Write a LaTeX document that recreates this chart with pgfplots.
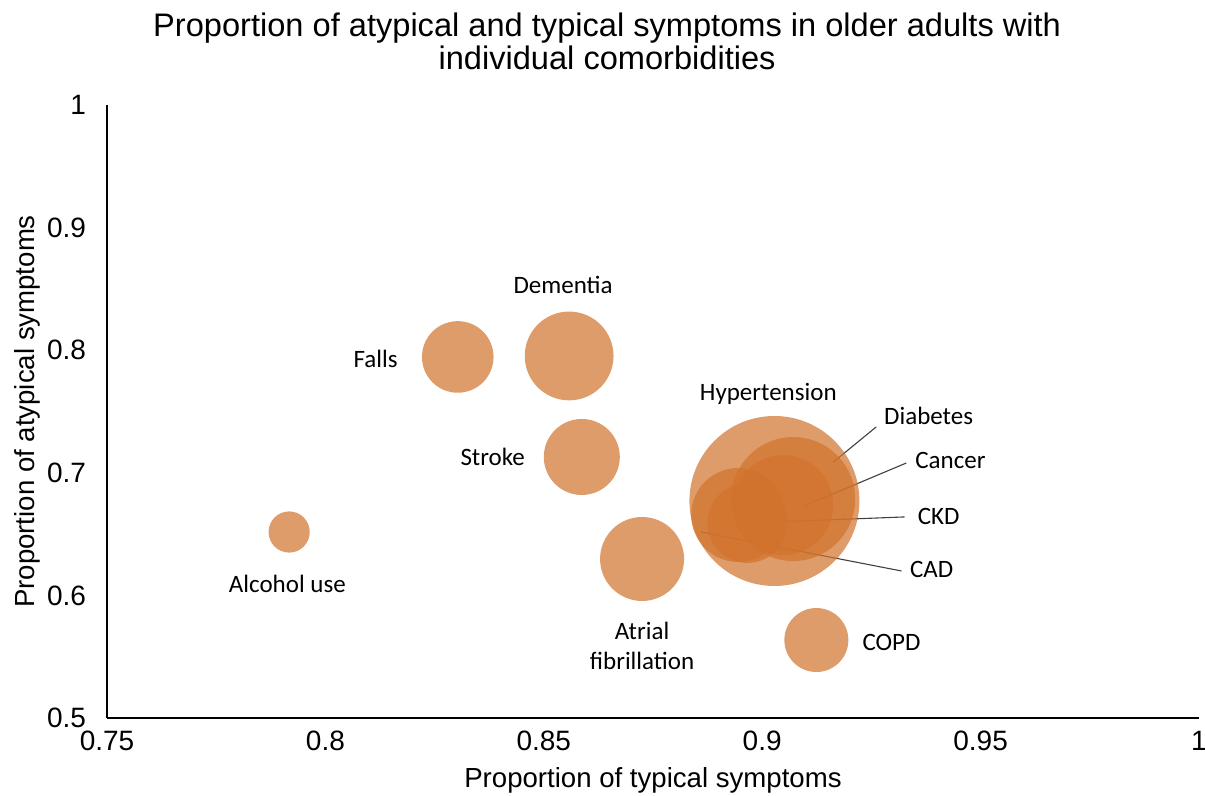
\documentclass[border=0pt]{standalone}
\usepackage{pgfplots}
\pgfplotsset{compat=1.18}
\usepackage{pgfplotstable}
\usepackage{fontspec}
\setmainfont{Liberation Sans}
\newfontfamily\lab{Carlito}
\definecolor{bub}{RGB}{209,114,44}
\pgfplotstableread{
x y r
0.9028 0.6770 42.5
0.9071 0.6786 31
0.9048 0.6737 25
0.8945 0.6656 23.5
0.8966 0.6591 20
0.7917 0.6517 10.3
0.8303 0.7945 17.9
0.8558 0.7953 22.2
0.8587 0.7129 19
0.8725 0.6297 21
0.9124 0.5636 16
}\bubbles
\begin{document}
\begin{tikzpicture}
\useasboundingbox (-53.5pt,-39pt) rectangle (549pt,359pt);
\begin{axis}[
  at={(0,0)}, anchor=south west,
  scale only axis, width=546pt, height=306.5pt,
  xmin=0.75, xmax=1, ymin=0.5, ymax=1,
  axis lines=left, axis line style={-, black, line width=0.7pt},
  major tick length=0pt,
  xtick={0.75,0.8,0.85,0.9,0.95,1}, xticklabels={0.75,0.8,0.85,0.9,0.95,1},
  ytick={0.5,0.6,0.7,0.8,0.9,1}, yticklabels={0.5,0.6,0.7,0.8,0.9,1},
  tick label style={font=\fontsize{14}{16}\selectfont},
  xticklabel style={yshift=-3pt}, yticklabel style={xshift=-7pt},
  clip=false,
]
\addplot[scatter, only marks, mark=*,
  scatter/use mapped color={draw opacity=0, fill=bub, fill opacity=0.7},
  visualization depends on={\thisrow{r}\as\rad},
  scatter/@pre marker code/.append style={/tikz/mark size=\rad}]
  table[x=x,y=y] {\bubbles};
% leader lines
\draw[black!75, line width=0.55pt] (axis cs:0.9163,0.7088) -- (axis cs:0.9261,0.7374);
\draw[black!75, line width=0.55pt] (axis cs:0.9096,0.6729) -- (axis cs:0.9330,0.7080);
\draw[black!75, line width=0.55pt] (axis cs:0.8970,0.6591) -- (axis cs:0.9326,0.6640);
\draw[black!75, line width=0.55pt] (axis cs:0.8860,0.6517) -- (axis cs:0.9319,0.6199);
% data labels
\begin{scope}[every node/.style={font=\lab\fontsize{12.5}{15}\selectfont, inner sep=0pt}]
\node at (axis cs:0.7913,0.6093) {Alcohol use};
\node at (axis cs:0.8115,0.7928) {Falls};
\node at (axis cs:0.8544,0.8532) {Dementia};
\node at (axis cs:0.8383,0.7129) {Stroke};
\node at (axis cs:0.9014,0.7643) {Hypertension};
\node at (axis cs:0.9381,0.7463) {Diabetes};
\node at (axis cs:0.9431,0.7104) {Cancer};
\node at (axis cs:0.9404,0.6640) {CKD};
\node at (axis cs:0.9388,0.6215) {CAD};
\node at (axis cs:0.9296,0.5612) {COPD};
\node[align=center] at (axis cs:0.8725,0.5587) {Atrial\\fibrillation};
\end{scope}
% title and axis labels
\node[align=center, font=\fontsize{16.3}{16.5}\selectfont] at ([yshift=32pt]rel axis cs:0.458,1) {Proportion of atypical and typical symptoms in older adults with\\individual comorbidities};
\node[font=\fontsize{13.8}{16}\selectfont] at ([yshift=-31pt]rel axis cs:0.5,0) {Proportion of typical symptoms};
\node[rotate=90, font=\fontsize{13.8}{16}\selectfont] at ([xshift=-40pt]rel axis cs:0,0.5) {Proportion of atypical symptoms};
\end{axis}
\end{tikzpicture}
\end{document}
